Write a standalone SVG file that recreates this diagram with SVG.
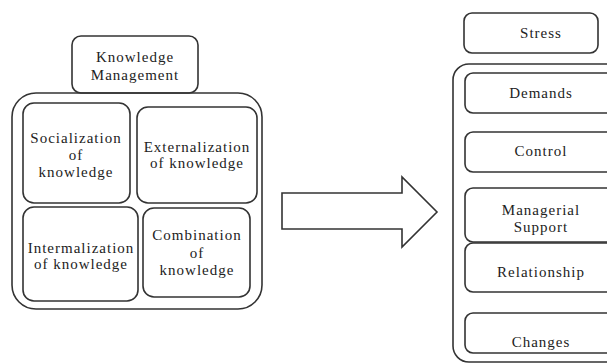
<svg xmlns="http://www.w3.org/2000/svg" width="607" height="364" viewBox="0 0 607 364">
<style>
.b{fill:none;stroke:#333;stroke-width:1.6}
.t{font-family:"Liberation Serif","Times New Roman",serif;font-size:15px;letter-spacing:1px;fill:#222;text-anchor:middle}
</style>
<rect width="607" height="364" fill="#fff"/>
<g id="km-group">
<rect class="b" x="12" y="93" width="250" height="216" rx="24"/>
</g>
<g id="knowledge-management">
<rect class="b" x="72" y="36" width="126" height="57" rx="9"/>
<text class="t" x="135" y="62">Knowledge</text>
<text class="t" x="135" y="80">Management</text>
</g>
<g id="socialization">
<rect class="b" x="23" y="103" width="107" height="100" rx="11"/>
<text class="t" x="76" y="143">Socialization</text>
<text class="t" x="76" y="160">of</text>
<text class="t" x="76" y="177">knowledge</text>
</g>
<g id="externalization">
<rect class="b" x="137" y="107" width="120" height="96" rx="11"/>
<text class="t" x="197" y="152">Externalization</text>
<text class="t" x="197" y="168">of knowledge</text>
</g>
<g id="intermalization">
<rect class="b" x="23" y="207" width="115" height="94" rx="11"/>
<text class="t" x="81" y="253">Intermalization</text>
<text class="t" x="81" y="269">of knowledge</text>
</g>
<g id="combination">
<rect class="b" x="143" y="208" width="107" height="89" rx="11"/>
<text class="t" x="197" y="240">Combination</text>
<text class="t" x="197" y="258">of</text>
<text class="t" x="197" y="275">knowledge</text>
</g>
<g id="connectors">
<polygon class="b" points="282,193 402,193 402,177 437,212 402,247 402,229 282,229"/>
</g>
<g id="stress">
<rect class="b" x="464" y="13" width="134" height="40" rx="8"/>
<text class="t" x="541" y="38">Stress</text>
</g>
<g id="stress-group">
<rect class="b" x="453" y="64" width="175" height="298" rx="16"/>
</g>
<g id="demands">
<rect class="b" x="465" y="73" width="150" height="40" rx="8"/>
<text class="t" x="541" y="98">Demands</text>
</g>
<g id="control">
<rect class="b" x="465" y="132" width="150" height="40" rx="8"/>
<text class="t" x="541" y="156">Control</text>
</g>
<g id="managerial-support">
<rect class="b" x="465" y="188" width="150" height="54" rx="8"/>
<text class="t" x="541" y="215">Managerial</text>
<text class="t" x="541" y="232">Support</text>
</g>
<g id="relationship">
<rect class="b" x="465" y="243" width="150" height="49" rx="8"/>
<text class="t" x="541" y="277">Relationship</text>
</g>
<g id="changes">
<rect class="b" x="465" y="313" width="150" height="40" rx="8"/>
<text class="t" x="541" y="347">Changes</text>
</g>
</svg>
